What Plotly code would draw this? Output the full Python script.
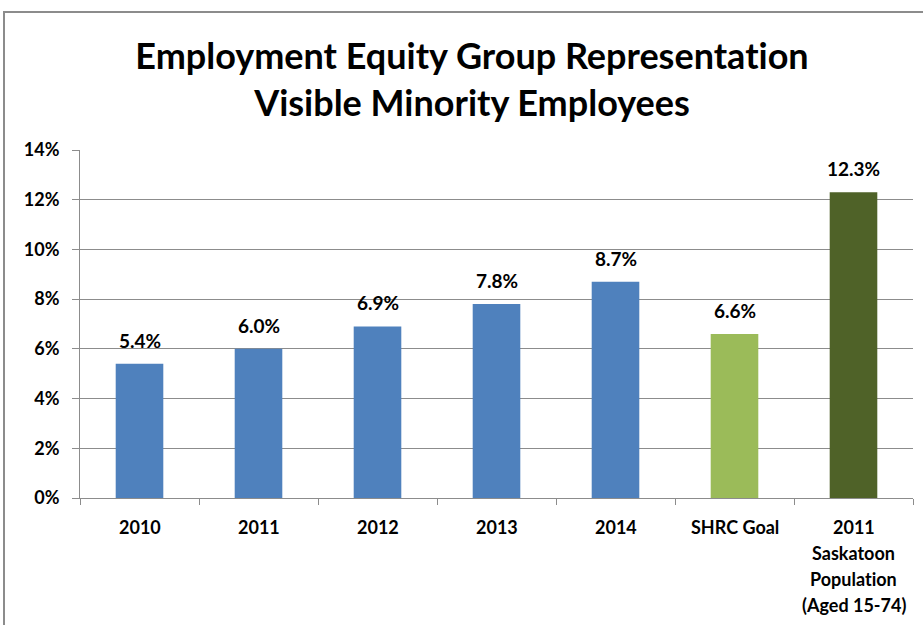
import plotly.graph_objects as go

# Chart data
categories = ["2010", "2011", "2012", "2013", "2014", "SHRC Goal",
              "2011<br>Saskatoon<br>Population<br>(Aged 15-74)"]
values = [5.4, 6.0, 6.9, 7.8, 8.7, 6.6, 12.3]
bar_colors = ["#4F81BD", "#4F81BD", "#4F81BD", "#4F81BD", "#4F81BD",
              "#9BBB59", "#4F6228"]
y_ticks = [0, 2, 4, 6, 8, 10, 12, 14]
y_tick_labels = ["0%", "2%", "4%", "6%", "8%", "10%", "12%", "14%"]
title_lines = ["Employment Equity Group Representation",
               "Visible Minority Employees"]

FONT = "Lato"
W, H = 923, 625
L, R, T, B = 80, 10, 150, 127
plot_w = W - L - R
plot_h = H - T - B


def plain(s):
    # keep "t" and "i" as separate glyphs (no ligature)
    return s.replace("ti", "t\u200ci")


xs = list(range(len(categories)))

fig = go.Figure()
fig.add_trace(go.Bar(
    x=xs, y=values,
    marker=dict(color=bar_colors, line=dict(width=0)),
    width=0.4,
    hoverinfo="skip",
))

# Value labels above each bar
for x, v in zip(xs, values):
    fig.add_annotation(x=x, y=v, text=f"<b>{v:.1f}%</b>", showarrow=False,
                       yanchor="bottom", yshift=10,
                       font=dict(family=FONT, size=19, color="#000"))

# Category labels, one annotation per line for wider line spacing
line_gap = 26
for x, cat in zip(xs, categories):
    for i, part in enumerate(cat.split("<br>")):
        fig.add_annotation(x=x, xref="x", y=0, yref="paper",
                           text=f"<b>{plain(part)}</b>", showarrow=False,
                           yanchor="middle", yshift=-29 - i * line_gap,
                           font=dict(family=FONT, size=18, color="#000"))

# Outer chart border (continues past the right and bottom edges)
fig.add_shape(type="rect", xref="paper", yref="paper",
              x0=(4 - L) / plot_w, x1=(W + 20 - L) / plot_w,
              y0=-(H + 20 - T - plot_h) / plot_h, y1=(H - 12 - B) / plot_h,
              line=dict(color="#8C8C8C", width=2), layer="below")

fig.update_layout(
    width=W, height=H,
    margin=dict(l=L, r=R, t=T, b=B),
    paper_bgcolor="white", plot_bgcolor="white",
    showlegend=False,
    title=dict(text="<b>" + "<br>".join(plain(t) for t in title_lines) + "</b>",
               x=472 / W, xref="container", xanchor="center",
               y=1 - 69 / H, yanchor="middle",
               font=dict(family=FONT, size=36, color="#000")),
    xaxis=dict(range=[-0.5, len(categories) - 0.5],
               tickvals=[i - 0.5 for i in range(len(categories) + 1)],
               ticktext=[""] * (len(categories) + 1),
               ticks="outside", ticklen=6, tickcolor="#8C8C8C",
               showgrid=False, zeroline=False,
               showline=True, linecolor="#8C8C8C", linewidth=1),
    yaxis=dict(range=[0, 14], tickvals=y_ticks,
               ticktext=[f"<b>{t}</b>" for t in y_tick_labels],
               ticks="outside", ticklen=7, tickcolor="#8C8C8C",
               ticklabelstandoff=9,
               tickfont=dict(family=FONT, size=18, color="#000"),
               showgrid=True, gridcolor="#8C8C8C", gridwidth=1,
               zeroline=False, showline=True, linecolor="#8C8C8C",
               linewidth=1),
)

fig.write_html("out.html")
